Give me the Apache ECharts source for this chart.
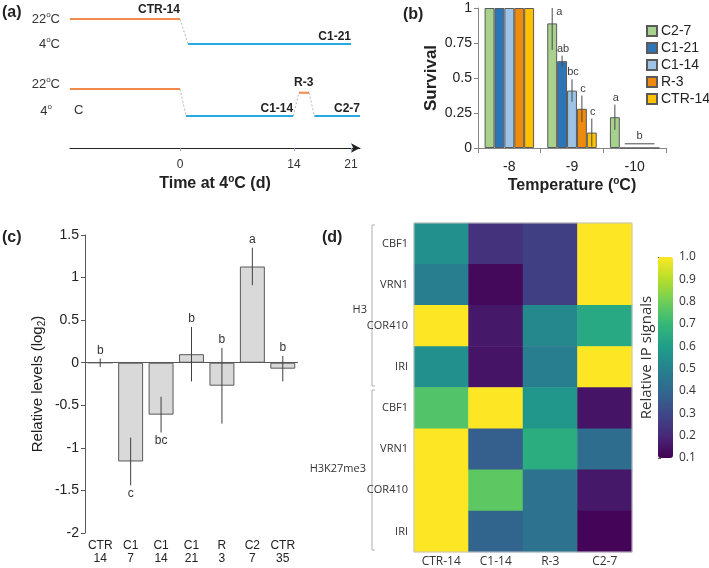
<!DOCTYPE html>
<html><head><meta charset="utf-8">
<script src="https://cdn.jsdelivr.net/npm/echarts@6/dist/echarts.min.js"></script>
<style>html,body{margin:0;padding:0;background:#fff}#c{width:709px;height:568px}</style>
</head><body><div id="c"></div>
<script>
const FA = '"Liberation Sans", Arial, sans-serif';
const FD = '"Open Sans", "Noto Sans", sans-serif';

// ---------- (a) treatment schedule: [day at 4°C, temperature °C] ----------
const aRow1Warm = [[-13.5, 22], [0, 22]];
const aRow1Drop = [[0, 22], [1, 4]];
const aRow1Cold = [[1, 4], [21, 4]];
const aRow2Warm = [[-13.5, 22], [0, 22]];
const aRow2Drop = [[0, 22], [0.75, 4]];
const aRow2Cold1 = [[0.75, 4], [13.9, 4]];
const aRow2Rise = [[13.9, 4], [14.6, 19.5]];
const aRow2Recov = [[14.6, 19.5], [15.2, 19.5], [15.85, 19.5]];
const aRow2Drop2 = [[15.85, 19.5], [16.5, 4]];
const aRow2Cold2 = [[16.5, 4], [22.1, 4]];
const aTicks = [0, 14, 21];
const aXMin = -13.5, aXMax = 22.1;

// ---------- (b) survival ----------
const bCats = ['-8', '-9', '-10'];
const bNames = ['C2-7', 'C1-21', 'C1-14', 'R-3', 'CTR-14'];
const bC27 = [1, 0.89, 0.22];
const bC121 = [1, 0.62, 0];
const bC114 = [1, 0.41, 0];
const bR3 = [1, 0.28, 0];
const bCTR14 = [1, 0.11, 0];
const bErrC27 = [0, 0.19, 0.09];
const bErrC121 = [0, 0.04, 0];
const bErrC114 = [0, 0.08, 0];
const bErrR3 = [0, 0.095, 0];
const bErrCTR14 = [0, 0.1, 0];
const bLetC27 = ['', 'a', 'a'];
const bLetC121 = ['', 'ab', ''];
const bLetC114 = ['', 'bc', ''];
const bLetR3 = ['', 'c', ''];
const bLetCTR14 = ['', 'c', ''];
const bZeroCat = 2, bZeroLevel = 0.03, bZeroLetter = 'b';

// ---------- (c) relative levels ----------
const cCats = ['CTR\n14', 'C1\n7', 'C1\n14', 'C1\n21', 'R\n3', 'C2\n7', 'CTR\n35'];
const cVals = [0, -1.16, -0.61, 0.10, -0.27, 1.13, -0.07];
const cErr = [0.05, 0.28, 0.21, 0.32, 0.445, 0.22, 0.15];
const cLetters = ['b', 'c', 'bc', 'b', 'b', 'a', 'b'];

// ---------- (d) heatmap ----------
const dCols = ['CTR-14', 'C1-14', 'R-3', 'C2-7'];
const dGenes = ['CBF1', 'VRN1', 'COR410', 'IRI', 'CBF1', 'VRN1', 'COR410', 'IRI'];
const dGroups = ['H3', 'H3K27me3'];
const dCTR14 = [0.55, 0.48, 1.0, 0.55, 0.75, 1.0, 1.0, 1.0];
const dC114 = [0.23, 0.12, 0.16, 0.15, 1.0, 0.37, 0.77, 0.39];
const dR3 = [0.27, 0.27, 0.52, 0.48, 0.57, 0.66, 0.44, 0.44];
const dC27 = [1.0, 1.0, 0.64, 1.0, 0.15, 0.42, 0.16, 0.11];
const dCbTicksMin = 0.1, dCbTicksMax = 1.0;

const viridis = ['#440154','#482878','#3e4989','#31688e','#26828e','#1f9e89','#35b779','#6ece58','#b5de2b','#fde725'];
const ORANGE = '#f4894c', BLUE = '#29a9e1';

function aLine(data, color, dashed, gi, labels) {
  return {
    type: 'line', xAxisIndex: gi, yAxisIndex: gi, silent: true,
    symbol: 'circle', symbolSize: 0, showSymbol: true, z: dashed ? 2 : 3,
    data: data.map((d, i) => (labels && labels[i]) ? {
      value: d,
      label: { show: true, formatter: labels[i].text, position: 'top', align: labels[i].align,
        distance: labels[i].dist, fontFamily: FA, fontWeight: 'bold', fontSize: 12, color: '#222' }
    } : d),
    lineStyle: dashed ? { color: '#b5b5b5', width: 1, type: [2, 2] } : { color: color, width: 2 }
  };
}

const supRich = {
  t: { fontFamily: FA, fontSize: 13, color: '#333', lineHeight: 16 },
  s: { fontFamily: FA, fontSize: 8, color: '#333', verticalAlign: 'top', lineHeight: 16 },
  g: { width: 8 }
};

const bVals = [bC27, bC121, bC114, bR3, bCTR14];
const bErrs = [bErrC27, bErrC121, bErrC114, bErrR3, bErrCTR14];
const bLets = [bLetC27, bLetC121, bLetC114, bLetR3, bLetCTR14];
const bColors = ['#a9d18e', '#2e75b6', '#9dc3e6', '#ef8b0c', '#ffc000'];
const B_GAP = 0.21;

function bErrRender(si) {
  return function (params, api) {
    const ci = api.value(0), v = api.value(1), e = api.value(2);
    const letter = bLets[si][params.dataIndex];
    const band = api.size([1, 0])[0];
    const bw = band * (1 - B_GAP) / 5;
    const cx = api.coord([ci, v])[0] + (si - 2) * bw;
    const hiV = Math.min(v + e, 1);
    const yHi = api.coord([ci, hiV])[1];
    const yLo = api.coord([ci, v - e])[1];
    const ch = [];
    if (e > 0) ch.push({ type: 'line', shape: { x1: cx, y1: yHi, x2: cx, y2: yLo }, style: { stroke: '#4a4a4a', lineWidth: 1 } });
    if (letter) {
      const clipped = v + e >= 1;
      ch.push({ type: 'text', style: { text: letter, x: clipped ? cx + 4 : cx + 1, y: clipped ? yHi + 4 : yHi - 7,
        align: clipped ? 'left' : 'center', verticalAlign: 'middle', fontFamily: FA, fontSize: 11, fill: '#404040' } });
    }
    return { type: 'group', children: ch };
  };
}

const series = [];
// (a)
series.push(aLine(aRow1Warm, ORANGE, false, 0, { 1: { text: 'CTR-14', align: 'right', dist: 3 } }));
series.push(aLine(aRow1Drop, null, true, 0));
series.push(aLine(aRow1Cold, BLUE, false, 0, { 1: { text: 'C1-21', align: 'right', dist: 1 } }));
series.push(aLine(aRow2Warm, ORANGE, false, 1));
series.push(aLine(aRow2Drop, null, true, 1));
series.push(aLine(aRow2Cold1, BLUE, false, 1, { 1: { text: 'C1-14', align: 'right', dist: 1 } }));
series.push(aLine(aRow2Rise, null, true, 1));
series.push(aLine(aRow2Recov, ORANGE, false, 1, { 1: { text: 'R-3', align: 'center', dist: 4 } }));
series.push(aLine(aRow2Drop2, null, true, 1));
series.push(aLine(aRow2Cold2, BLUE, false, 1, { 1: { text: 'C2-7', align: 'right', dist: 1 } }));

// (b)
bNames.forEach((n, si) => {
  series.push({
    type: 'bar', name: n, xAxisIndex: 2, yAxisIndex: 2, data: bVals[si],
    barGap: '0%', barCategoryGap: (B_GAP * 100) + '%', silent: true,
    itemStyle: { color: bColors[si], borderColor: '#5a5a5a', borderWidth: 1 }
  });
});
bNames.forEach((n, si) => {
  series.push({
    type: 'custom', xAxisIndex: 2, yAxisIndex: 2, silent: true, z: 5,
    data: bVals[si].map((v, i) => [i, v, bErrs[si][i]]),
    encode: { x: 0, y: 1 },
    renderItem: bErrRender(si)
  });
});
series.push({
  type: 'custom', xAxisIndex: 2, yAxisIndex: 2, silent: true, z: 5,
  data: [[bZeroCat, bZeroLevel]], encode: { x: 0, y: 1 },
  renderItem: function (params, api) {
    const band = api.size([1, 0])[0];
    const bw = band * (1 - B_GAP) / 5;
    const p = api.coord([api.value(0), api.value(1)]);
    const x1 = p[0] - bw, x2 = p[0] + 2 * bw;
    return { type: 'group', children: [
      { type: 'line', shape: { x1: x1, y1: p[1], x2: x2, y2: p[1] }, style: { stroke: '#4a4a4a', lineWidth: 1 } },
      { type: 'text', style: { text: bZeroLetter, x: (x1 + x2) / 2, y: p[1] - 8, align: 'center', verticalAlign: 'middle', fontFamily: FA, fontSize: 11, fill: '#404040' } }
    ] };
  }
});

// (c)
series.push({
  type: 'bar', xAxisIndex: 3, yAxisIndex: 3, data: cVals, barCategoryGap: '18%', silent: true,
  itemStyle: { color: '#d9d9d9', borderColor: '#595959', borderWidth: 1 },
  markLine: { silent: true, symbol: 'none', label: { show: false }, animation: false,
    lineStyle: { color: '#595959', width: 1, type: 'solid' }, data: [{ yAxis: 0 }] }
});
series.push({
  type: 'custom', xAxisIndex: 3, yAxisIndex: 3, silent: true, z: 5,
  data: cVals.map((v, i) => [i, v, cErr[i]]), encode: { x: 0, y: 1 },
  renderItem: function (params, api) {
    const i = params.dataIndex, v = api.value(1), e = api.value(2);
    const top = api.coord([i, v + e]), bot = api.coord([i, v - e]);
    const below = v < -0.5;
    return { type: 'group', children: [
      { type: 'line', shape: { x1: top[0], y1: top[1], x2: bot[0], y2: bot[1] }, style: { stroke: '#404040', lineWidth: 1 } },
      { type: 'text', style: { text: cLetters[i], x: top[0], y: below ? bot[1] + 8 : top[1] - 8, align: 'center', verticalAlign: 'middle', fontFamily: FA, fontSize: 12, fill: '#333' } }
    ] };
  }
});

// (d)
const dCols4 = [dCTR14, dC114, dR3, dC27];
const heatData = [];
dCols4.forEach((col, ci) => col.forEach((v, ri) => heatData.push([ci, ri, v])));
const heatIndex = series.length;
series.push({ type: 'heatmap', xAxisIndex: 4, yAxisIndex: 4, data: heatData, silent: true, itemStyle: { borderWidth: 0 } });

const option = {
  animation: false,
  textStyle: { fontFamily: FA },
  grid: [
    { left: 70, top: 19, width: 290, height: 25 },
    { left: 70, top: 89, width: 290, height: 27 },
    { left: 478, top: 8, width: 188, height: 140 },
    { left: 85, top: 235, width: 213, height: 298 },
    { left: 414, top: 223, width: 218, height: 329 },
    { left: 658, top: 257, width: 15, height: 201 }
  ],
  xAxis: [
    { gridIndex: 0, type: 'value', min: aXMin, max: aXMax, show: false },
    { gridIndex: 1, type: 'value', min: aXMin, max: aXMax, offset: 32,
      axisLine: { show: true, onZero: false, symbol: ['none', 'arrow'], symbolSize: [7, 9], lineStyle: { color: '#222', width: 1 } },
      axisTick: { show: true, customValues: aTicks, length: 3, lineStyle: { color: '#7ea6d6' } },
      axisLabel: { customValues: aTicks, fontFamily: FA, fontSize: 12, color: '#333', margin: 11 },
      splitLine: { show: false },
      name: '{b|Time at 4}{bs|o}{b|C (d)}', nameLocation: 'middle', nameGap: 26,
      nameTextStyle: { rich: {
        b: { fontFamily: FA, fontWeight: 'bold', fontSize: 16, color: '#222', lineHeight: 20 },
        bs: { fontFamily: FA, fontWeight: 'bold', fontSize: 10, color: '#222', verticalAlign: 'top', lineHeight: 20 } } } },
    { gridIndex: 2, type: 'category', data: bCats,
      axisLine: { lineStyle: { color: '#868686' } },
      axisTick: { show: true, length: 5, lineStyle: { color: '#868686' } },
      axisLabel: { fontFamily: FA, fontSize: 14, color: '#222', margin: 12 },
      name: '{b|Temperature (}{bs|o}{b|C)}', nameLocation: 'middle', nameGap: 28,
      nameTextStyle: { rich: {
        b: { fontFamily: FA, fontWeight: 'bold', fontSize: 16, color: '#222', lineHeight: 20 },
        bs: { fontFamily: FA, fontWeight: 'bold', fontSize: 10, color: '#222', verticalAlign: 'top', lineHeight: 20 } } } },
    { gridIndex: 3, type: 'category', data: cCats,
      axisLine: { show: false, onZero: false }, axisTick: { show: false },
      axisLabel: { interval: 0, fontFamily: FA, fontSize: 12, lineHeight: 13, color: '#222', margin: 6 } },
    { gridIndex: 4, type: 'category', data: dCols,
      axisLine: { show: false }, axisTick: { show: false },
      axisLabel: { fontFamily: FD, fontSize: 12, color: '#333', margin: 4 } },
    { gridIndex: 5, type: 'value', min: 0, max: 1, show: false }
  ],
  yAxis: [
    { gridIndex: 0, type: 'value', min: 4, max: 22, interval: 18,
      axisLine: { show: false }, axisTick: { show: false }, splitLine: { show: false },
      axisLabel: { margin: 10, formatter: v => '{t|' + v + '}{s|o}{t|C}', rich: supRich } },
    { gridIndex: 1, type: 'value', min: 4, max: 22, interval: 18,
      axisLine: { show: false }, axisTick: { show: false }, splitLine: { show: false },
      axisLabel: { margin: 10, padding: [0, 0, 10, 0], formatter: v => v === 22 ? '{t|22}{s|o}{t|C}' : '{t|4}{s|o}{g|}', rich: supRich } },
    { gridIndex: 2, type: 'value', min: 0, max: 1, interval: 0.25,
      axisLine: { show: true, lineStyle: { color: '#868686' } },
      axisTick: { show: true, length: 4, lineStyle: { color: '#868686' } },
      splitLine: { show: false },
      axisLabel: { fontFamily: FA, fontSize: 14, color: '#222', margin: 6 },
      name: 'Survival', nameLocation: 'middle', nameRotate: 90, nameGap: 38,
      nameTextStyle: { fontFamily: FA, fontWeight: 'bold', fontSize: 17, color: '#222' } },
    { gridIndex: 3, type: 'value', min: -2, max: 1.5, interval: 0.5,
      axisLine: { show: true, lineStyle: { color: '#595959' } },
      axisTick: { show: true, length: 4, lineStyle: { color: '#595959' } },
      splitLine: { show: false },
      axisLabel: { fontFamily: FA, fontSize: 14, color: '#222', margin: 6 },
      name: '{t|Relative levels (log}{sub|2}{t|)}', nameLocation: 'middle', nameRotate: 90, nameGap: 38,
      nameTextStyle: { rich: {
        t: { fontFamily: FA, fontSize: 15, color: '#222', lineHeight: 18 },
        sub: { fontFamily: FA, fontSize: 10, color: '#222', verticalAlign: 'bottom', lineHeight: 18, padding: [6, 0, 0, 0] } } } },
    { gridIndex: 4, type: 'category', data: dGenes.map((g, i) => i), inverse: true,
      axisLine: { show: false }, axisTick: { show: false },
      axisLabel: { fontFamily: FD, fontSize: 11, color: '#333', margin: 6, formatter: v => dGenes[+v] } },
    { gridIndex: 5, type: 'value', position: 'right', min: dCbTicksMin, max: dCbTicksMax, interval: 0.1,
      axisLine: { show: false }, splitLine: { show: false },
      axisTick: { show: true, length: 3, lineStyle: { color: '#555' } },
      axisLabel: { fontFamily: FD, fontSize: 12, color: '#333', margin: 6, formatter: v => (+v).toFixed(1) } },
    { gridIndex: 5, type: 'value', position: 'left', min: dCbTicksMin, max: dCbTicksMax,
      axisLine: { show: false }, axisTick: { show: false }, axisLabel: { show: false }, splitLine: { show: false },
      name: 'Relative IP signals', nameLocation: 'middle', nameRotate: 90, nameGap: 4,
      nameTextStyle: { fontFamily: FD, fontSize: 15, color: '#333' } }
  ],
  legend: {
    data: bNames, orient: 'vertical', left: 646, top: 24, itemWidth: 10, itemHeight: 10, itemGap: 3,
    icon: 'rect', padding: 0, selectedMode: false,
    textStyle: { fontFamily: FA, fontSize: 14, color: '#222', padding: [0, 0, 0, -1] }
  },
  visualMap: {
    type: 'continuous', seriesIndex: heatIndex, min: 0.1, max: 1, inRange: { color: viridis },
    left: 658, top: 257, itemWidth: 15, itemHeight: 201, calculable: false, padding: 0, orient: 'vertical'
  },
  graphic: [
    { type: 'text', left: 2, top: 5, style: { text: '(a)', fontFamily: FA, fontWeight: 'bold', fontSize: 16, fill: '#222' } },
    { type: 'text', left: 403, top: 7, style: { text: '(b)', fontFamily: FA, fontWeight: 'bold', fontSize: 16, fill: '#222' } },
    { type: 'text', left: 2, top: 230, style: { text: '(c)', fontFamily: FA, fontWeight: 'bold', fontSize: 16, fill: '#222' } },
    { type: 'text', left: 322, top: 230, style: { text: '(d)', fontFamily: FA, fontWeight: 'bold', fontSize: 16, fill: '#222' } },
    { type: 'text', x: 74, y: 110, style: { text: 'C', fontFamily: FA, fontSize: 13, fill: '#333', verticalAlign: 'middle' } },
    { type: 'text', x: 367, y: 310, style: { text: dGroups[0], fontFamily: FD, fontSize: 11, fill: '#333', align: 'right', verticalAlign: 'middle' } },
    { type: 'text', x: 366, y: 469, style: { text: dGroups[1], fontFamily: FD, fontSize: 11, fill: '#333', align: 'right', verticalAlign: 'middle' } },
    { type: 'polyline', shape: { points: [[375, 225], [372, 225], [372, 386], [375, 386]] }, style: { stroke: '#b0b0b0', lineWidth: 1, fill: null } },
    { type: 'polyline', shape: { points: [[375, 390], [372, 390], [372, 550], [375, 550]] }, style: { stroke: '#b0b0b0', lineWidth: 1, fill: null } },
    { type: 'rect', z: 100, shape: { x: 414, y: 223, width: 218, height: 329 }, style: { stroke: '#c4c4c4', lineWidth: 1, fill: null } }
  ],
  series: series
};

const chart = echarts.init(document.getElementById('c'), null, { renderer: 'canvas' });
chart.setOption(option);
</script>
</body></html>
